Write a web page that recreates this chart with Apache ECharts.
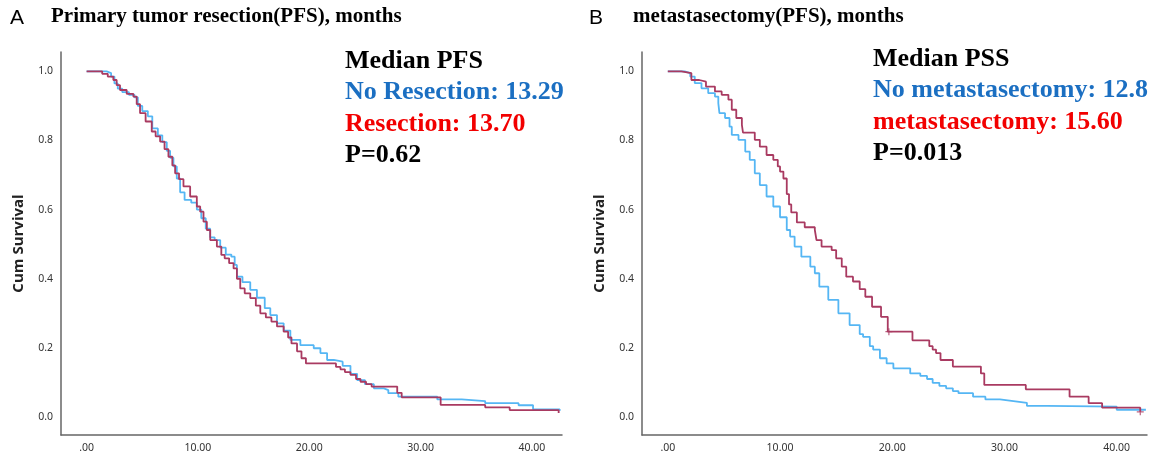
<!DOCTYPE html>
<html>
<head>
<meta charset="utf-8">
<script src="https://cdn.jsdelivr.net/npm/echarts@6/dist/echarts.min.js"></script>
<style>
  html, body { margin: 0; padding: 0; background: #fff; }
  #km { width: 1159px; height: 454px; }
</style>
</head>
<body>
<div id="km"></div>
<script>
// [months, cum survival]
var noResection = [[0,1.0],[1.8,0.995],[2.2,0.985],[2.5,0.965],[2.8,0.950],[3.2,0.940],[3.8,0.932],[4.3,0.925],[4.6,0.900],[5.0,0.885],[5.5,0.870],[5.9,0.835],[6.4,0.815],[6.8,0.795],[7.2,0.770],[7.5,0.750],[7.8,0.725],[8.1,0.690],[8.4,0.650],[8.8,0.628],[9.4,0.620],[9.9,0.600],[10.3,0.575],[10.7,0.545],[11.1,0.520],[11.5,0.512],[12.0,0.490],[12.5,0.470],[13.0,0.464],[13.3,0.440],[13.5,0.406],[14.0,0.390],[14.7,0.368],[15.3,0.345],[16.0,0.315],[16.5,0.295],[17.1,0.271],[17.7,0.250],[18.3,0.223],[19.2,0.208],[20.4,0.199],[21.0,0.185],[21.6,0.165],[22.2,0.160],[23.0,0.148],[23.7,0.125],[24.3,0.107],[25.0,0.095],[25.8,0.083],[26.7,0.078],[27.1,0.069],[28.0,0.059],[31.5,0.051],[33.7,0.046],[35.8,0.040],[38.8,0.034],[40.1,0.022],[42.5,0.018]];
var resection = [[0,1.0],[1.4,0.993],[1.9,0.985],[2.4,0.975],[2.7,0.960],[3.0,0.946],[3.6,0.935],[4.2,0.927],[4.5,0.905],[4.8,0.879],[5.3,0.855],[5.85,0.826],[6.2,0.812],[6.6,0.797],[7.0,0.775],[7.35,0.753],[7.7,0.728],[7.95,0.705],[8.3,0.688],[8.7,0.667],[9.3,0.638],[9.9,0.609],[10.2,0.594],[10.5,0.565],[10.8,0.541],[11.1,0.512],[11.7,0.493],[12.1,0.469],[12.4,0.459],[12.8,0.445],[13.2,0.430],[13.5,0.400],[13.8,0.372],[14.2,0.358],[14.7,0.344],[15.2,0.322],[15.6,0.300],[16.1,0.288],[16.6,0.276],[17.1,0.262],[17.7,0.247],[18.1,0.230],[18.4,0.213],[18.9,0.190],[19.3,0.170],[19.7,0.155],[22.4,0.145],[22.8,0.138],[23.2,0.130],[23.7,0.122],[24.2,0.110],[24.6,0.102],[25.1,0.095],[25.6,0.088],[27.9,0.070],[28.3,0.057],[31.8,0.035],[35.8,0.028],[38.0,0.020],[42.4,0.012]];
var noMetastasectomy = [[0,1.0],[1.5,0.995],[2.0,0.985],[2.4,0.966],[3.0,0.951],[3.6,0.937],[4.2,0.927],[4.5,0.908],[4.6,0.879],[5.1,0.865],[5.5,0.840],[5.7,0.816],[6.3,0.802],[6.9,0.768],[7.3,0.744],[7.75,0.705],[8.2,0.671],[8.8,0.638],[9.4,0.609],[10.0,0.578],[10.6,0.541],[10.9,0.522],[11.3,0.493],[11.9,0.464],[12.7,0.435],[13.1,0.416],[13.5,0.377],[14.3,0.339],[15.2,0.300],[16.2,0.266],[17.1,0.240],[17.4,0.232],[18.0,0.205],[18.3,0.195],[18.9,0.170],[19.5,0.155],[20.1,0.141],[21.6,0.126],[22.5,0.119],[23.1,0.110],[23.6,0.099],[24.2,0.090],[24.8,0.083],[25.4,0.075],[25.9,0.069],[27.2,0.059],[28.3,0.051],[29.6,0.046],[30.8,0.041],[32.0,0.032],[33.8,0.030],[40.0,0.021],[42.6,0.020]];
var metastasectomy = [[0,1.0],[1.2,0.995],[2.1,0.975],[2.8,0.970],[3.4,0.956],[4.2,0.942],[4.8,0.932],[5.4,0.918],[5.7,0.889],[6.1,0.865],[6.6,0.845],[6.7,0.823],[7.75,0.802],[8.2,0.782],[8.8,0.758],[9.4,0.744],[9.8,0.725],[10.0,0.710],[10.3,0.690],[10.6,0.645],[10.8,0.615],[11.0,0.592],[11.5,0.563],[12.2,0.549],[13.1,0.541],[13.25,0.512],[13.7,0.493],[14.6,0.483],[15.0,0.459],[15.5,0.435],[15.9,0.406],[16.5,0.392],[17.1,0.370],[17.6,0.348],[18.2,0.319],[19.0,0.290],[19.6,0.247],[21.8,0.222],[23.3,0.205],[23.6,0.195],[23.9,0.185],[24.3,0.165],[25.4,0.146],[27.9,0.126],[28.2,0.093],[31.9,0.080],[35.8,0.059],[37.5,0.040],[38.7,0.027],[42.1,0.015]];
// censored marks that show as small crosses
var metastasectomyCensor = [[19.7,0.247],[42.1,0.015]];

var xTicks = [0, 10, 20, 30, 40];
var yTicks = [0, 0.2, 0.4, 0.6, 0.8, 1.0];

var panelTitles = ['Primary tumor resection(PFS), months', 'metastasectomy(PFS), months'];
var panelLetters = ['A', 'B'];
var notesA = ['Median PFS', 'No Resection: 13.29', 'Resection: 13.70', 'P=0.62'];
var notesB = ['Median PSS', 'No metastasectomy: 12.8', 'metastasectomy: 15.60', 'P=0.013'];

var blueLine = '#55b6f4';
var redLine = '#a93a61';
var noteColors = ['#000', '#1b6fc2', '#f20000', '#000'];

var kmDom = document.getElementById('km');
var kmChart = echarts.init(kmDom);

function xAxisFor(idx) {
    return {
        type: 'value', gridIndex: idx, min: -2.3, max: 42.7,
        axisLine: { onZero: false, lineStyle: { color: '#666', width: 1.5 } },
        axisTick: { show: false },
        splitLine: { show: false },
        axisLabel: {
            customValues: xTicks, margin: 8,
            color: '#333', fontSize: 10.5, fontFamily: 'Noto Sans',
            formatter: function (v) { return v === 0 ? '.00' : v.toFixed(2); }
        }
    };
}

function yAxisFor(idx) {
    return {
        type: 'value', gridIndex: idx, min: -0.052, max: 1.056,
        name: 'Cum Survival', nameLocation: 'middle', nameGap: 35, nameRotate: 90,
        nameTextStyle: { color: '#222', fontSize: 15, fontWeight: 'bold', fontFamily: 'Open Sans' },
        axisLine: { show: true, onZero: false, lineStyle: { color: '#666', width: 1.5 } },
        axisTick: { show: false },
        splitLine: { show: false },
        axisLabel: {
            customValues: yTicks, margin: 8,
            color: '#333', fontSize: 10.5, fontFamily: 'Noto Sans',
            formatter: function (v) { return v.toFixed(1); }
        }
    };
}

function kmSeries(name, idx, data, color) {
    return {
        name: name, type: 'line', step: 'end',
        xAxisIndex: idx, yAxisIndex: idx,
        data: data, symbol: 'none', silent: true,
        lineStyle: { color: color, width: 1.8 }
    };
}

function noteTexts(lines, x, y0) {
    return lines.map(function (t, i) {
        return {
            type: 'text', left: x, top: y0 + i * 31.5,
            style: {
                text: t, fill: noteColors[i],
                font: 'bold 26px "Liberation Serif", "Times New Roman", serif'
            }
        };
    });
}

var kmOption = {
    animation: false,
    backgroundColor: '#fff',
    grid: [
        { left: 61, top: 52, width: 501, height: 383 },
        { left: 642, top: 52, width: 505, height: 383 }
    ],
    xAxis: [xAxisFor(0), xAxisFor(1)],
    yAxis: [yAxisFor(0), yAxisFor(1)],
    series: [
        kmSeries('No Resection', 0, noResection, blueLine),
        kmSeries('Resection', 0, resection, redLine),
        kmSeries('No metastasectomy', 1, noMetastasectomy, blueLine),
        kmSeries('metastasectomy', 1, metastasectomy, redLine),
        {
            type: 'scatter', xAxisIndex: 1, yAxisIndex: 1, silent: true,
            data: metastasectomyCensor,
            symbol: 'path://M5,0 L5,10 M0,5 L10,5', symbolSize: 7,
            itemStyle: { color: 'none', borderColor: redLine, borderWidth: 1.2 }
        }
    ],
    graphic: [
        { type: 'text', left: 10, top: 8, style: { text: panelLetters[0], fill: '#000', font: '21px "Liberation Sans", Arial, sans-serif' } },
        { type: 'text', left: 51, top: 6, style: { text: panelTitles[0], fill: '#000', font: 'bold 21px "Liberation Serif", "Times New Roman", serif' } },
        { type: 'text', left: 589, top: 8, style: { text: panelLetters[1], fill: '#000', font: '21px "Liberation Sans", Arial, sans-serif' } },
        { type: 'text', left: 633, top: 6, style: { text: panelTitles[1], fill: '#000', font: 'bold 21px "Liberation Serif", "Times New Roman", serif' } }
    ].concat(noteTexts(notesA, 345, 48), noteTexts(notesB, 873, 46))
};

if (kmOption && typeof kmOption === 'object') {
    kmChart.setOption(kmOption, true);
}
</script>
</body>
</html>
